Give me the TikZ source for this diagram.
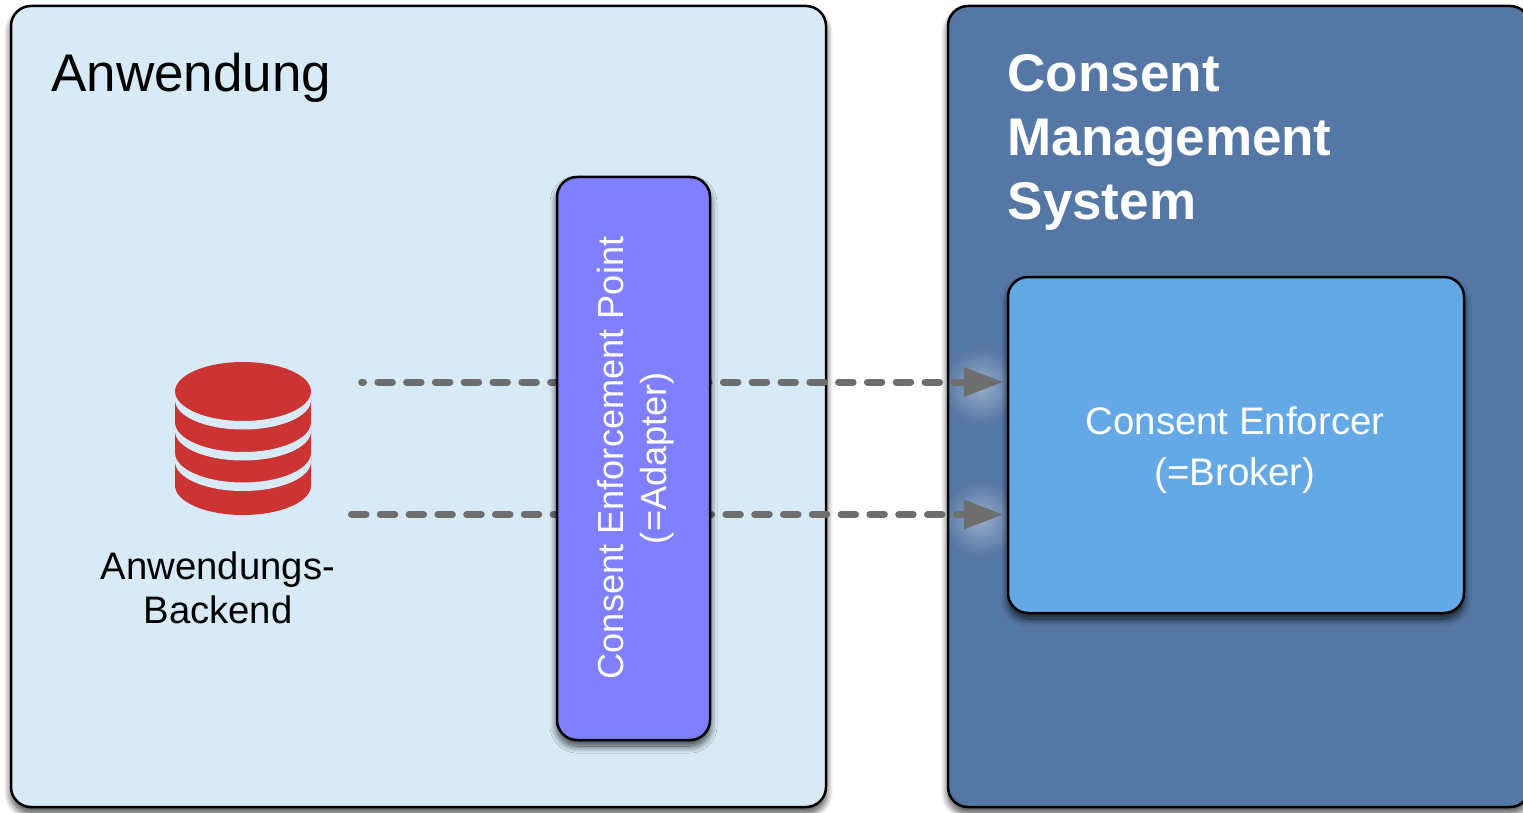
\documentclass[tikz,border=0pt]{standalone}
\usepackage{fontspec}
\setmainfont{Liberation Sans}
\usetikzlibrary{arrows.meta}
\usetikzlibrary{fadings}
\usetikzlibrary{shadows.blur}
\definecolor{panelblue}{HTML}{D8EAF6}
\definecolor{panelsteel}{HTML}{5577A5}
\definecolor{adapterviolet}{HTML}{8080FF}
\definecolor{brokerblue}{HTML}{64A9E6}
\definecolor{dbred}{HTML}{CC3333}
\definecolor{flowgrey}{HTML}{6E6E6E}
\tikzfading[name=glowfade, inner color=transparent!60, outer color=transparent!100]
\tikzset{box/.style={draw=black, line width=2.5pt, rounded corners=20pt, inner sep=0pt,
      blur shadow={shadow xshift=0pt, shadow yshift=-6pt, shadow blur radius=7pt, shadow blur steps=16, shadow opacity=75}}}
\tikzset{dashflow/.style={draw=flowgrey, line width=7pt, line cap=round,
      dash pattern=on 14.5pt off 14.3pt}}
\tikzset{headflow/.style={-{Triangle[length=39pt, width=30pt, line width=0pt, flowgrey]}, shorten >=4pt}}
\tikzset{titletext/.style={inner sep=0pt, align=left, font=\fontsize{53}{64}\selectfont}}

\begin{document}
\begin{tikzpicture}[x=1pt, y=-1pt]
		\useasboundingbox (0,0) rectangle (1523,813);
		\node[box, fill=panelblue, minimum width=815pt, minimum height=801pt] (anwendung) at (418.5,406.5) {};
		\node[box, fill=panelsteel, minimum width=582pt, minimum height=801pt] (cms) at (1239,406.5) {};
		\node[titletext, anchor=base west] (anwendungtitle) at (51,92) {Anwendung};
		\node[titletext, anchor=north west, text=white, font=\fontsize{53}{64}\selectfont\bfseries] (cmstitle) at (1007.5,54) {Consent\\Management\\System};
		\fill[white, path fading=glowfade] (981,386) ellipse [x radius=38, y radius=38];
		\fill[white, path fading=glowfade] (981,519) ellipse [x radius=38, y radius=38];
		\node[box, fill=brokerblue, minimum width=456pt, minimum height=336pt] (enforcer) at (1236,445) {};
		\node[text=white, align=center, inner sep=0pt, font=\fontsize{38.4}{51}\selectfont] (enforcerlabel) at (1235,450) {Consent Enforcer\\(=Broker)};
		\coordinate (upperstart) at (361.7,382);
		\coordinate (lowerstart) at (351.5,514.5);
		\draw[dashflow, dash phase=12.7pt, headflow] (upperstart) to (upperstart -| enforcer.west);
		\draw[dashflow, headflow] (lowerstart) to (lowerstart -| enforcer.west);
		\node[box, fill=adapterviolet, minimum width=153pt, minimum height=563pt] (adapter) at (633.5,458.5) {};
		\node[rotate=90, text=white, align=center, inner sep=0pt,
			font=\fontsize{36.2}{43}\selectfont] (adapterlabel) at (636,458) {Consent Enforcement Point\\(=Adapter)};
		\fill[dbred] (175,391.5) arc[start angle=180, end angle=360, x radius=68, y radius=29.5]
			-- (311,485.5) arc[start angle=0, end angle=180, x radius=68, y radius=29.5] -- cycle;
		\foreach \bandy in {391.5,422.5,453}
			\fill[panelblue] (175,\bandy) arc[start angle=180, end angle=0, x radius=68, y radius=29.5]
				-- (311,\bandy+8.5) arc[start angle=0, end angle=180, x radius=68, y radius=29.5] -- cycle;
		\node[align=center, inner sep=0pt, font=\fontsize{38.3}{44}\selectfont] (backendlabel) at (218,587.5) {Anwendungs-\\Backend};
		\end{tikzpicture}
\end{document}
